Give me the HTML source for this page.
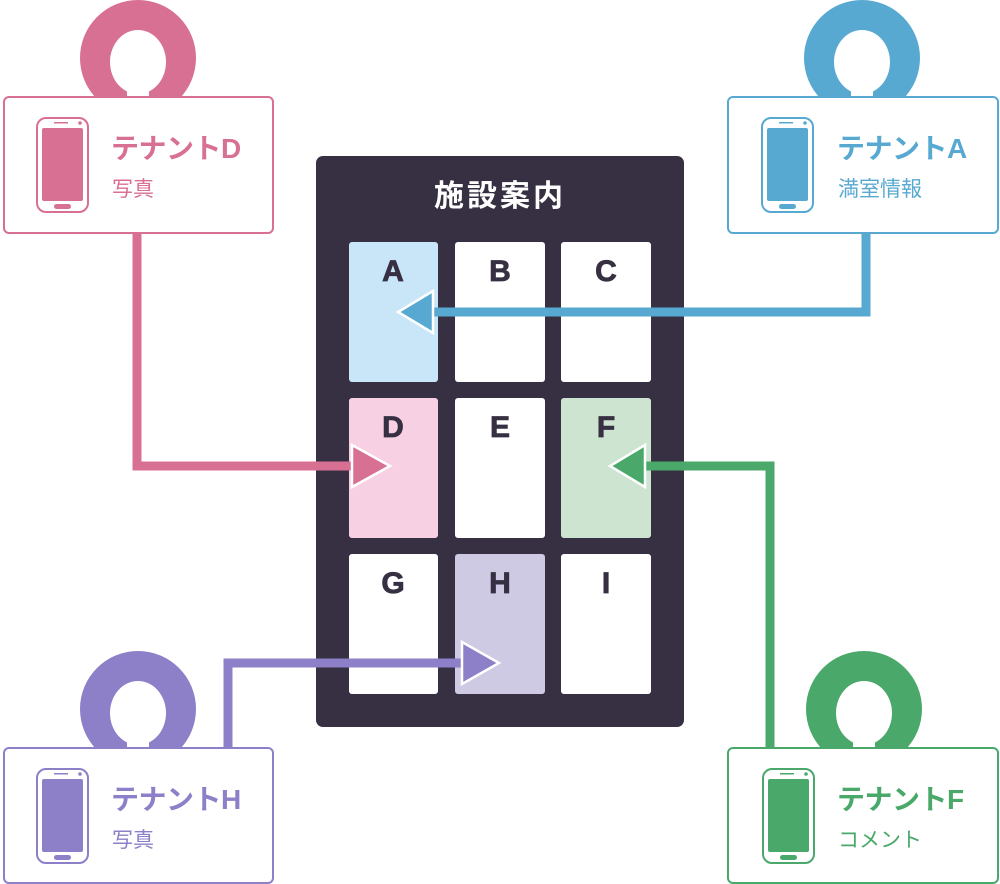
<!DOCTYPE html>
<html><head><meta charset="utf-8"><style>
html,body{margin:0;padding:0;background:#fff;width:1000px;height:884px;overflow:hidden}
text{font-family:"Liberation Sans","Noto Sans CJK JP",sans-serif}
</style></head><body>
<svg width="1000" height="884" viewBox="0 0 1000 884" xmlns="http://www.w3.org/2000/svg">
<defs>
<g id="person">
  <circle cx="0" cy="0" r="58"/>
  <ellipse cx="0" cy="4" rx="28" ry="32" fill="#fff"/>
  <rect x="-11" y="20" width="22" height="30" fill="#fff"/>
</g>
<g id="phone">
  <rect x="0" y="0" width="51" height="94" rx="9" fill="#fff" stroke-width="2"/>
  <rect x="5" y="10" width="41" height="73" rx="2" stroke="none"/>
  <rect x="17" y="86" width="17" height="5" rx="2.5" stroke="none"/>
  <rect x="17" y="4" width="14" height="1.5" stroke="none"/>
  <circle cx="43" cy="5" r="1.8" stroke="none"/>
</g>
</defs>

<rect x="316" y="156" width="368" height="571" rx="7" fill="#372f42"/>
<text x="500" y="206" text-anchor="middle" font-size="30" font-weight="bold" fill="#fff" letter-spacing="3">施設案内</text>
<g>
<rect x="349" y="242" width="89" height="140" rx="3" fill="#c8e6f7"/>
<rect x="455" y="242" width="90" height="140" rx="3" fill="#fff"/>
<rect x="561" y="242" width="90" height="140" rx="3" fill="#fff"/>
<rect x="349" y="398" width="89" height="140" rx="3" fill="#f7d1e3"/>
<rect x="455" y="398" width="90" height="140" rx="3" fill="#fff"/>
<rect x="561" y="398" width="90" height="140" rx="3" fill="#cde5d0"/>
<rect x="349" y="554" width="89" height="140" rx="3" fill="#fff"/>
<rect x="455" y="554" width="90" height="140" rx="3" fill="#cfcae4"/>
<rect x="561" y="554" width="90" height="140" rx="3" fill="#fff"/>
</g>
<g font-size="30" font-weight="bold" fill="#372f42" text-anchor="middle" stroke="#372f42" stroke-width="0.8">
<text x="393" y="281">A</text><text x="500" y="281">B</text><text x="606" y="281">C</text>
<text x="393" y="437">D</text><text x="500" y="437">E</text><text x="606" y="437">F</text>
<text x="393" y="593">G</text><text x="500" y="593">H</text><text x="606" y="593">I</text>
</g>

<g fill="#d87094"><use href="#person" transform="translate(138,58)"/></g>
<g fill="#58a9d2"><use href="#person" transform="translate(862,58)"/></g>
<g fill="#8d80c8"><use href="#person" transform="translate(138,709)"/></g>
<g fill="#4aa96a"><use href="#person" transform="translate(864,709)"/></g>

<rect x="4" y="97" width="269" height="136" rx="5" fill="#fff" stroke="#d87094" stroke-width="2"/>
<rect x="728" y="97" width="270" height="136" rx="5" fill="#fff" stroke="#58a9d2" stroke-width="2"/>
<rect x="4" y="748" width="269" height="135" rx="5" fill="#fff" stroke="#8d80c8" stroke-width="2"/>
<rect x="728" y="748" width="270" height="135" rx="5" fill="#fff" stroke="#4aa96a" stroke-width="2"/>

<g fill="#d87094" stroke="#d87094"><use href="#phone" transform="translate(37,118)"/></g>
<g fill="#58a9d2" stroke="#58a9d2"><use href="#phone" transform="translate(762,118)"/></g>
<g fill="#8d80c8" stroke="#8d80c8"><use href="#phone" transform="translate(37,769)"/></g>
<g fill="#4aa96a" stroke="#4aa96a"><use href="#phone" transform="translate(763,769)"/></g>

<g font-size="28" font-weight="bold" letter-spacing="-0.5">
<text x="111" y="158" fill="#d87094">テナントD</text>
<text x="837" y="158" fill="#58a9d2">テナントA</text>
<text x="111" y="809" fill="#8d80c8">テナントH</text>
<text x="837" y="809" fill="#4aa96a">テナントF</text>
</g>
<g font-size="21">
<text x="112" y="196" fill="#d87094">写真</text>
<text x="838" y="196" fill="#58a9d2">満室情報</text>
<text x="112" y="847" fill="#8d80c8">写真</text>
<text x="838" y="847" fill="#4aa96a">コメント</text>
</g>

<g fill="none" stroke-width="9" stroke-linejoin="miter">
<polyline points="137,233 137,466 365,466" stroke="#d87094"/>
<polyline points="866,233 866,312 430,312" stroke="#58a9d2"/>
<polyline points="770,748 770,466 640,466" stroke="#4aa96a"/>
<polyline points="228,748 228,663 470,663" stroke="#8d80c8"/>
</g>
<g stroke="#fff" stroke-width="2.5" stroke-linejoin="miter">
<polygon points="352,445 390,466 352,487" fill="#d87094"/>
<polygon points="433,291 398,312 433,333" fill="#58a9d2"/>
<polygon points="645,445 610,466 645,487" fill="#4aa96a"/>
<polygon points="462,642 499,663 462,684" fill="#8d80c8"/>
</g>
</svg>
</body></html>
